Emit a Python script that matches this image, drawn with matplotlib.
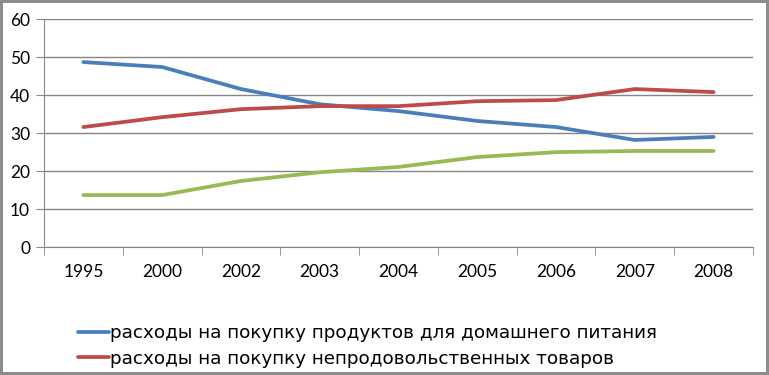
import matplotlib
matplotlib.use("Agg")
import matplotlib.pyplot as plt
from matplotlib import font_manager

years = ["1995", "2000", "2002", "2003", "2004", "2005", "2006", "2007", "2008"]
food_home = [48.7, 47.4, 41.6, 37.6, 35.8, 33.2, 31.6, 28.2, 29.0]
non_food = [31.6, 34.2, 36.3, 37.1, 37.1, 38.4, 38.7, 41.6, 40.8]
other = [13.7, 13.7, 17.4, 19.7, 21.1, 23.7, 25.0, 25.3, 25.3]

labels = ["расходы на покупку продуктов для домашнего питания",
          "расходы на покупку непродовольственных товаров"]

names = {f.name for f in font_manager.fontManager.ttflist}
narrow = "Liberation Sans Narrow" if "Liberation Sans Narrow" in names else "DejaVu Sans"
plt.rcParams["font.family"] = ["Lato", "DejaVu Sans"]

fig = plt.figure(figsize=(7.69, 3.75), dpi=100)
fig.patch.set_edgecolor("#8c8c8c")
fig.patch.set_linewidth(3)
ax = fig.add_axes([0.0572, 0.341, 0.922, 0.608])

x = range(len(years))
l1, = ax.plot(x, food_home, color="#4a7ebb", lw=2.7, solid_capstyle="round")
l2, = ax.plot(x, non_food, color="#be4b48", lw=2.7, solid_capstyle="round")
ax.plot(x, other, color="#98b954", lw=2.7, solid_capstyle="round")

ax.set_xlim(-0.5, len(years) - 0.5)
ax.set_ylim(0, 60)
ax.set_yticks(range(0, 61, 10))
ax.set_xticks(list(x))
ax.set_xticklabels(years)
ax.set_xticks([i - 0.5 for i in range(len(years) + 1)], minor=True)
ax.tick_params(axis="x", which="major", length=0, pad=12, labelsize=12.5)
ax.tick_params(axis="x", which="minor", length=6, color="#868686")
ax.tick_params(axis="y", length=6, color="#868686", labelsize=12.5, pad=4)
ax.grid(axis="y", color="#868686", lw=1)
for s in ["top", "right"]:
    ax.spines[s].set_visible(False)
for s in ["left", "bottom"]:
    ax.spines[s].set_color("#868686")

leg = fig.legend([l1, l2], labels, loc="upper left", bbox_to_anchor=(0.092, 0.155),
                 frameon=False, handlelength=1.7, handletextpad=0.05,
                 labelspacing=0.42, prop={"family": narrow, "size": 13.2},
                 borderaxespad=0)

fig.savefig("out.png", dpi=100)
